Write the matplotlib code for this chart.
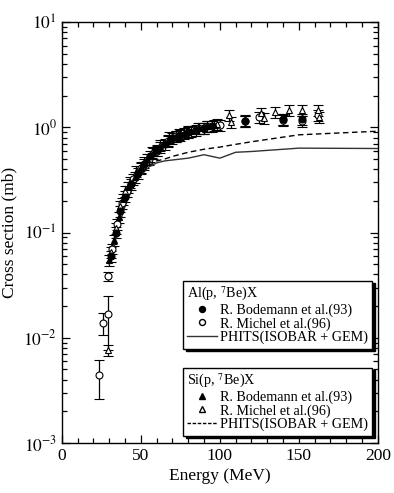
import matplotlib
matplotlib.use("Agg")
import matplotlib.pyplot as plt
from matplotlib.lines import Line2D
from matplotlib.ticker import LogLocator, MultipleLocator, NullFormatter, FixedLocator

plt.rcParams['font.family'] = ['Liberation Serif', 'DejaVu Serif']
plt.rcParams['mathtext.fontset'] = 'stix'

# Al(p,7Be)X - Bodemann et al. (93)
al_bod_e = [31, 34, 37, 40, 44, 48, 52, 56, 60, 65, 70, 75, 80, 85, 90, 95, 116, 140, 152]
al_bod_v = [0.06, 0.10, 0.16, 0.22, 0.29, 0.37, 0.45, 0.53, 0.61, 0.70, 0.79, 0.85, 0.90, 0.95, 0.99, 1.02, 1.15, 1.21, 1.20]
# Al(p,7Be)X - Michel et al. (96)
al_mic_e = [23.6, 26.2, 28.9, 29.5, 32, 35, 38, 41, 45, 50, 55, 60, 67, 72, 80, 90, 100, 116, 125, 140, 152, 162]
al_mic_v = [0.0044, 0.0138, 0.0384, 0.0168, 0.07, 0.12, 0.19, 0.25, 0.32, 0.41, 0.50, 0.60, 0.74, 0.82, 0.90, 0.98, 1.05, 1.15, 1.25, 1.18, 1.15, 1.30]
al_mic_lo = [0.0018, 0.0032, 0.0034, 0.0092, 0.008, 0.014, 0.022, 0.03, 0.038, 0.05, 0.06, 0.07, 0.09, 0.10, 0.11, 0.12, 0.13, 0.14, 0.15, 0.14, 0.14, 0.16]
al_mic_hi = [0.0017, 0.0034, 0.0036, 0.0082, 0.008, 0.014, 0.022, 0.03, 0.038, 0.05, 0.06, 0.07, 0.09, 0.10, 0.11, 0.12, 0.13, 0.14, 0.15, 0.14, 0.14, 0.16]
# Si(p,7Be)X - Bodemann et al. (93)
si_bod_e = [30, 33, 36, 39, 42, 46, 50, 54, 58, 62, 67, 72, 77, 82, 87, 92, 96]
si_bod_v = [0.055, 0.085, 0.14, 0.21, 0.27, 0.34, 0.42, 0.50, 0.57, 0.65, 0.75, 0.82, 0.88, 0.93, 0.98, 1.03, 1.05]
# Si(p,7Be)X - Michel et al. (96)
si_mic_e = [29.3, 31, 34, 37, 40, 43, 47, 52, 57, 62, 68, 74, 80, 86, 92, 98, 106, 107, 116, 126, 128, 135, 140, 144, 152, 162, 163]
si_mic_v = [0.0077, 0.065, 0.11, 0.18, 0.25, 0.30, 0.38, 0.47, 0.58, 0.68, 0.80, 0.87, 0.93, 0.98, 1.03, 1.07, 1.30, 1.12, 1.18, 1.36, 1.22, 1.40, 1.21, 1.47, 1.47, 1.45, 1.25]

# PHITS (ISOBAR + GEM) calculations
calc_e = [30, 35, 40, 45, 50, 55, 60, 65, 70, 80, 90, 100, 110, 120, 150, 200]
al_calc = [0.05, 0.10, 0.18, 0.27, 0.35, 0.42, 0.46, 0.48, 0.49, 0.51, 0.55, 0.51, 0.58, 0.59, 0.635, 0.63]
si_calc = [0.06, 0.11, 0.19, 0.28, 0.36, 0.43, 0.48, 0.50, 0.53, 0.58, 0.62, 0.65, 0.69, 0.73, 0.85, 0.92]

fig = plt.figure(figsize=(3.94, 4.93), dpi=100)
ax = fig.add_axes([0.157, 0.1014, 0.802, 0.8536])

ms = 5.0
eb = dict(ls='none', ecolor='black', elinewidth=0.9, capsize=3.4, capthick=0.9,
          mec='black', mew=0.8, ms=ms)


def rel_err(vals, frac):
    return [v * frac for v in vals]


ax.errorbar(al_mic_e, al_mic_v, yerr=[al_mic_lo, al_mic_hi], fmt='o', mfc='white', **eb)
ax.errorbar(si_mic_e, si_mic_v, yerr=rel_err(si_mic_v, 0.12), fmt='^', mfc='white', **eb)
ax.errorbar(al_bod_e, al_bod_v, yerr=rel_err(al_bod_v, 0.12), fmt='o', mfc='black', **eb)
ax.errorbar(si_bod_e, si_bod_v, yerr=rel_err(si_bod_v, 0.12), fmt='^', mfc='black', **eb)

ax.plot(calc_e, al_calc, color='#333333', lw=1.0, ls='-')
ax.plot(calc_e, si_calc, color='black', lw=1.0, ls=(0, (4, 2.5)))

ax.set_xlim(0, 200)
ax.set_yscale('log')
ax.set_ylim(1e-3, 10)
ax.xaxis.set_major_locator(MultipleLocator(50))
ax.xaxis.set_minor_locator(MultipleLocator(10))
ax.yaxis.set_major_locator(FixedLocator([1e-3, 1e-2, 1e-1, 1, 10]))
ax.yaxis.set_minor_locator(LogLocator(base=10, subs=range(2, 10)))
ax.yaxis.set_minor_formatter(NullFormatter())
ax.set_yticklabels(['$10^{-3}$', '$10^{-2}$', '$10^{-1}$', '$10^{0}$', '$10^{1}$'])
ax.tick_params(which='both', direction='in', top=True, right=True, labelsize=12.5, width=0.9)
ax.tick_params(which='major', length=6)
ax.tick_params(which='minor', length=3.5)
for s in ax.spines.values():
    s.set_linewidth(1.0)

ax.set_xlabel('Energy (MeV)', fontsize=12.5, labelpad=3)
ax.set_ylabel('Cross section (mb)', fontsize=12.5, labelpad=4)

leg_kw = dict(frameon=True, fancybox=False, shadow={'color': 'black', 'alpha': 1.0},
              fontsize=10.2, title_fontsize=10.2, alignment='left', handlelength=2.1,
              handletextpad=0.2, borderpad=0.3, labelspacing=0.02, borderaxespad=0.0,
              edgecolor='black')

al_handles = [Line2D([], [], ls='none', marker='o', mfc='black', mec='black', ms=4.3),
              Line2D([], [], ls='none', marker='o', mfc='white', mec='black', ms=4.3),
              Line2D([], [], color='#333333', lw=1.0)]
si_handles = [Line2D([], [], ls='none', marker='^', mfc='black', mec='black', ms=4.3),
              Line2D([], [], ls='none', marker='^', mfc='white', mec='black', ms=4.3),
              Line2D([], [], color='black', lw=1.0, ls=(0, (2.5, 1.2)))]
labels = ['R. Bodemann et al.(93)', 'R. Michel et al.(96)', 'PHITS(ISOBAR + GEM)']

leg1 = ax.legend(al_handles, labels, title='Al(p, $^{7}$Be)X', loc='upper left',
                 bbox_to_anchor=(0.383, 0.386), **leg_kw)
leg1.get_frame().set_linewidth(1.0)
ax.add_artist(leg1)
leg2 = ax.legend(si_handles, labels, title='Si(p, $^{7}$Be)X', loc='upper left',
                 bbox_to_anchor=(0.383, 0.179), **leg_kw)
leg2.get_frame().set_linewidth(1.0)

fig.savefig('out.png', dpi=100)
